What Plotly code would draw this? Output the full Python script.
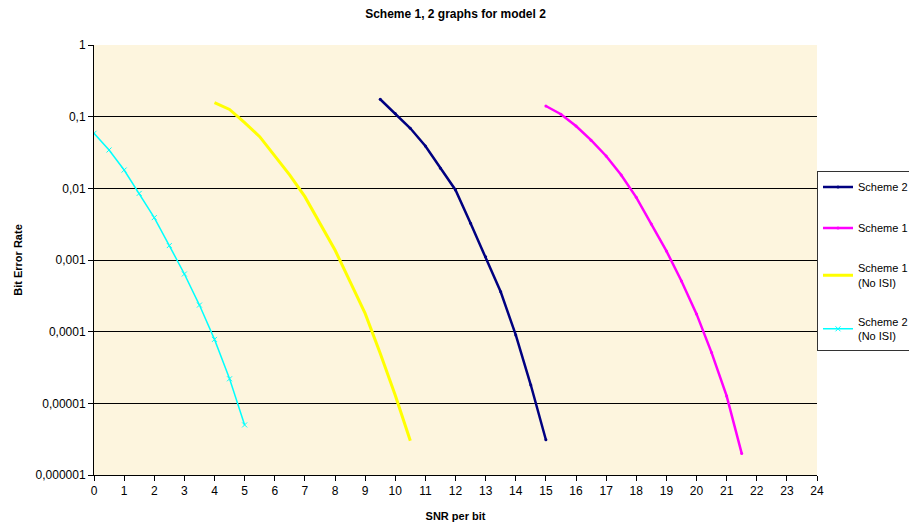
import plotly.graph_objects as go

# Data
snr_s2_noisi = [0, 0.5, 1, 1.5, 2, 2.5, 3, 3.5, 4, 4.5, 5]
ber_s2_noisi = [0.0586, 0.0343, 0.018, 0.0085, 0.0039, 0.00159, 0.000638, 0.000235, 7.8e-5, 2.2e-5, 5.0e-6]

snr_s1_noisi = [4, 4.5, 5, 5.5, 6, 6.5, 7, 7.5, 8, 8.5, 9, 9.5, 10, 10.5]
ber_s1_noisi = [0.157, 0.126, 0.0824, 0.0526, 0.0284, 0.0153, 0.00765, 0.00325, 0.00138, 0.0005, 0.00018, 5.0e-5, 1.3e-5, 3.0e-6]

snr_s2 = [9.5, 10, 10.5, 11, 11.5, 12, 12.5, 13, 13.5, 14, 14.5, 15]
ber_s2 = [0.175, 0.111, 0.0688, 0.039, 0.019, 0.0095, 0.00325, 0.00111, 3.6e-4, 9.0e-5, 1.8e-5, 3.1e-6]

snr_s1 = [15, 15.5, 16, 16.5, 17, 17.5, 18, 18.5, 19, 19.5, 20, 20.5, 21, 21.5]
ber_s1 = [0.141, 0.108, 0.074, 0.047, 0.0283, 0.0153, 0.0075, 0.00318, 0.00134, 5.1e-4, 1.77e-4, 5.1e-5, 1.27e-5, 2.0e-6]

x_ticks = list(range(0, 25))
y_tickvals = [1, 0.1, 0.01, 0.001, 0.0001, 0.00001, 0.000001]
y_ticktext = ["1", "0,1", "0,01", "0,001", "0,0001", "0,00001", "0,000001"]

FONT = "Liberation Sans, Arial, sans-serif"

fig = go.Figure()
fig.add_trace(go.Scatter(x=snr_s2, y=ber_s2, name="Scheme 2", mode="lines+markers",
                         line=dict(color="#000080", width=2.5),
                         marker=dict(size=3, color="#000080"), legendgroup="a"))
fig.add_trace(go.Scatter(x=snr_s1, y=ber_s1, name="Scheme 1", mode="lines+markers",
                         line=dict(color="#FF00FF", width=2.5),
                         marker=dict(size=3, color="#FF00FF"), legendgroup="b"))
fig.add_trace(go.Scatter(x=snr_s1_noisi, y=ber_s1_noisi, name="Scheme 1<br>(No ISI)", mode="lines",
                         line=dict(color="#FFFF00", width=3), legendgroup="c"))
fig.add_trace(go.Scatter(x=snr_s2_noisi, y=ber_s2_noisi, name="Scheme 2<br>(No ISI)", mode="lines+markers",
                         line=dict(color="#00FFFF", width=1.5),
                         marker=dict(size=5, symbol="x-thin", color="#00FFFF",
                                     line=dict(width=1, color="#00FFFF")), legendgroup="d"))

fig.update_layout(
    width=909, height=521,
    margin=dict(l=86, r=100, t=37, b=54, autoexpand=False),
    paper_bgcolor="white",
    plot_bgcolor="#FDF5DE",
    font=dict(family=FONT, size=11, color="black"),
    title=dict(text="<b>Scheme 1, 2 graphs for model 2</b>", x=0.5, xref="paper",
               y=1 - 6 / 521, yref="container", yanchor="middle",
               font=dict(size=12, family=FONT), automargin=False),
    legend=dict(x=1.0, xanchor="left", y=0.706, yanchor="top",
                bgcolor="white", bordercolor="#333333", borderwidth=1,
                tracegroupgap=22, font=dict(size=11, family=FONT)),
    showlegend=True,
)
fig.update_xaxes(range=[0, 24], tickvals=x_ticks, ticks="outside", ticklen=5,
                 tickcolor="black", showline=True, linecolor="black", linewidth=1,
                 showgrid=False, zeroline=False, mirror=False, automargin=False,
                 tickfont=dict(size=12),
                 title=dict(text="<b>SNR per bit</b>", font=dict(size=11), standoff=14))
fig.update_yaxes(type="log", range=[-6, 0], tickvals=y_tickvals, ticktext=y_ticktext,
                 ticks="outside", ticklen=5, tickcolor="black",
                 showline=True, linecolor="black", linewidth=1,
                 showgrid=True, gridcolor="black", gridwidth=1, zeroline=False,
                 automargin=False, tickfont=dict(size=12),
                 title=dict(text="<b>Bit Error Rate</b>", font=dict(size=11), standoff=10))

fig.write_html("out.html")
